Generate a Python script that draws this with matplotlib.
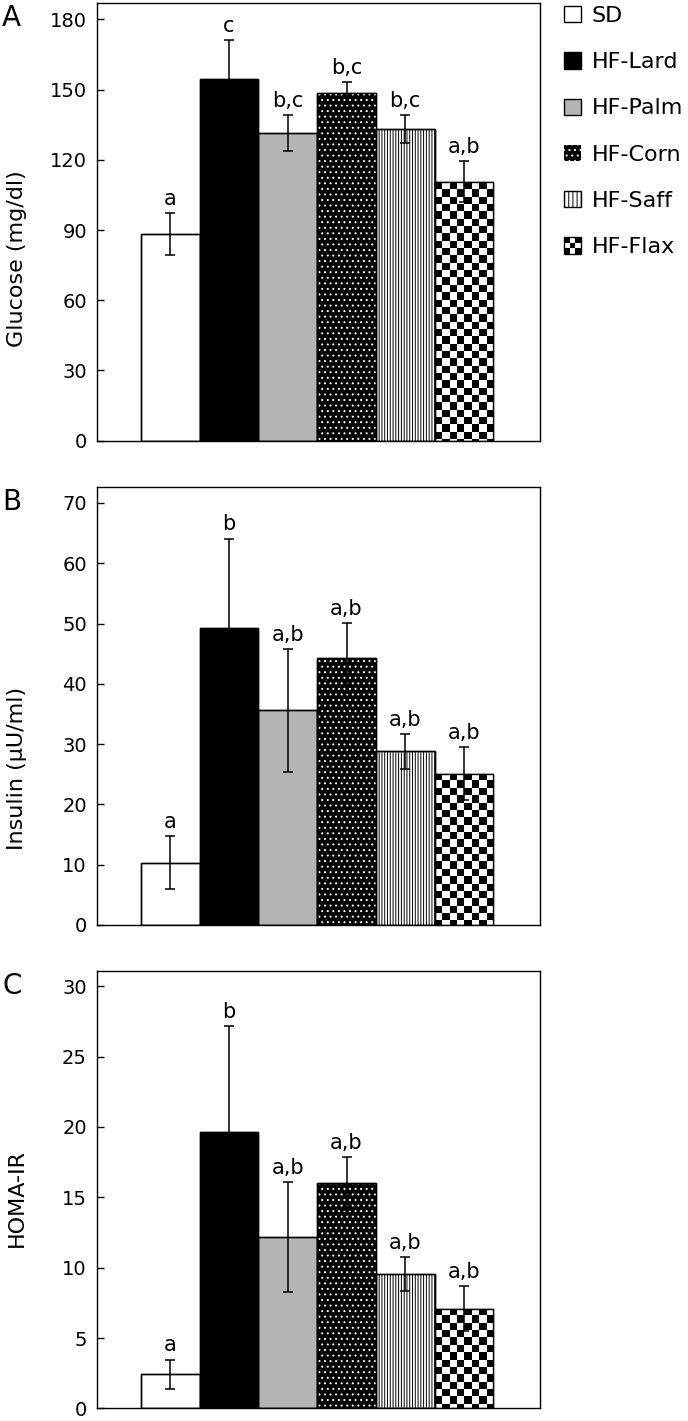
import numpy as np
import matplotlib
matplotlib.use("Agg")
import matplotlib.pyplot as plt
from matplotlib.patches import Patch, Rectangle
from matplotlib.legend_handler import HandlerBase

plt.rcParams['font.family'] = ['DejaVu Sans']
plt.rcParams['hatch.linewidth'] = 0.7

# grupos y valores
groups = ['SD', 'HF-Lard', 'HF-Palm', 'HF-Corn', 'HF-Saff', 'HF-Flax']

glucose = [88.3, 154.5, 131.5, 148.6, 133.1, 110.6]
glucose_err = [9.1, 16.5, 7.6, 4.6, 6.1, 8.7]
glucose_sig = ['a', 'c', 'b,c', 'b,c', 'b,c', 'a,b']

insulin = [10.35, 49.3, 35.6, 44.3, 28.8, 25.1]
insulin_err = [4.35, 14.8, 10.2, 5.8, 2.9, 4.4]
insulin_sig = ['a', 'b', 'a,b', 'a,b', 'a,b', 'a,b']

homa = [2.42, 19.66, 12.19, 16.0, 9.53, 7.09]
homa_err = [1.05, 7.5, 3.9, 1.88, 1.2, 1.6]
homa_sig = ['a', 'b', 'a,b', 'a,b', 'a,b', 'a,b']

panels = [
    ('A', 'Glucose (mg/dl)', glucose, glucose_err, glucose_sig, 187, np.arange(0, 181, 30), 0.214),
    ('B', 'Insulin (\u00b5U/ml)', insulin, insulin_err, insulin_sig, 72.6, np.arange(0, 71, 10), 0.171),
    ('C', 'HOMA-IR', homa, homa_err, homa_sig, 31.1, np.arange(0, 31, 5), 0.368),
]

W, H = 688, 1421
fig = plt.figure(figsize=(W / 100, H / 100), dpi=100)

ax_left = 96.7 / W
ax_w = 443.3 / W
ax_h = 437.7 / H
tops = [3, 487.3, 970.7]


def draw_checker(ax, rect, ncols=8):
    # tablero de ajedrez recortado a la barra
    x0, w, h = rect.get_x(), rect.get_width(), rect.get_height()
    p0 = ax.transData.transform((x0, 0))
    p1 = ax.transData.transform((x0 + w, h))
    cell_px = (p1[0] - p0[0]) / ncols
    nrows = int(np.ceil((p1[1] - p0[1]) / cell_px)) + 1
    cell_y = h / ((p1[1] - p0[1]) / cell_px)
    board = np.indices((nrows, ncols)).sum(axis=0) % 2
    board = board[::-1]
    im = ax.imshow(board, cmap='gray', vmin=0, vmax=1, interpolation='nearest',
                   extent=(x0, x0 + w, h - nrows * cell_y, h), origin='lower',
                   aspect='auto', zorder=2)
    im.set_clip_path(rect)


x = np.arange(len(groups))
for k, (letter, ylabel, vals, errs, sig, ytop, yt, ylab_y) in enumerate(panels):
    bottom = 1 - (tops[k] + 437.7) / H
    ax = fig.add_axes([ax_left, bottom, ax_w, ax_h])
    ax.set_xlim(-1.255, 6.295)
    ax.set_ylim(0, ytop)

    colors = ['white', 'black', '#b4b4b4', 'black', 'white', 'white']
    bars = ax.bar(x, vals, width=1.0, color=colors, edgecolor='black', linewidth=1.0, zorder=1)
    # maiz: puntos blancos sobre negro
    ax.bar(x[3], vals[3], width=1.0, color='black', edgecolor='white', linewidth=0,
           hatch='...', zorder=1.5)
    # cartamo: rayas verticales
    bars[4].set_hatch('||||||')
    draw_checker(ax, bars[5])
    ax.bar(x, vals, width=1.0, fill=False, edgecolor='black', linewidth=1.0, zorder=3)

    ax.errorbar(x, vals, yerr=errs, fmt='none', ecolor='black', elinewidth=1.1,
                capsize=3.5, capthick=1.1, zorder=5)
    for xi, v, e, s in zip(x, vals, errs, sig):
        ax.annotate(s, (xi, v + e), xytext=(0, 3), textcoords='offset points',
                    ha='center', va='bottom', fontsize=15)

    ax.set_xlim(-1.255, 6.295)
    ax.set_ylim(0, ytop)
    ax.set_xticks([])
    ax.set_yticks(yt)
    ax.tick_params(axis='y', direction='in', length=5, width=1, labelsize=14, pad=7)
    for sp in ax.spines.values():
        sp.set_linewidth(1.0)
    ax.set_ylabel(ylabel, fontsize=16, ha='left')
    ax.yaxis.set_label_coords(-0.157, ylab_y)
    fig.text(2 / W, 1 - (tops[k] + 1) / H, letter, fontsize=20, ha='left', va='top')


class CheckerHandler(HandlerBase):
    def create_artists(self, legend, orig_handle, xdescent, ydescent, width, height, fontsize, trans):
        n = 3
        arts = []
        for i in range(n):
            for j in range(n):
                c = 'black' if (i + j) % 2 == 0 else 'white'
                arts.append(Rectangle((-xdescent + j * width / n, -ydescent + i * height / n),
                                      width / n, height / n, facecolor=c, edgecolor='none',
                                      transform=trans))
        arts.append(Rectangle((-xdescent, -ydescent), width, height, fill=False,
                              edgecolor='black', lw=1, transform=trans))
        return arts


flax_handle = Patch(facecolor='white', edgecolor='black')
handles = [
    Patch(facecolor='white', edgecolor='black', lw=1),
    Patch(facecolor='black', edgecolor='black', lw=1),
    Patch(facecolor='#b4b4b4', edgecolor='black', lw=1),
    Patch(facecolor='black', edgecolor='white', lw=0, hatch='...'),
    Patch(facecolor='white', edgecolor='black', lw=1, hatch='||||'),
    flax_handle,
]
fig.legend(handles, groups, loc='upper left', bbox_to_anchor=(564 / W, 1 - 6 / H),
           frameon=False, fontsize=16, handlelength=0.75, handleheight=0.75,
           handletextpad=0.5, labelspacing=1.18, borderpad=0, borderaxespad=0,
           handler_map={flax_handle: CheckerHandler()})

fig.savefig('out.png', dpi=100)
